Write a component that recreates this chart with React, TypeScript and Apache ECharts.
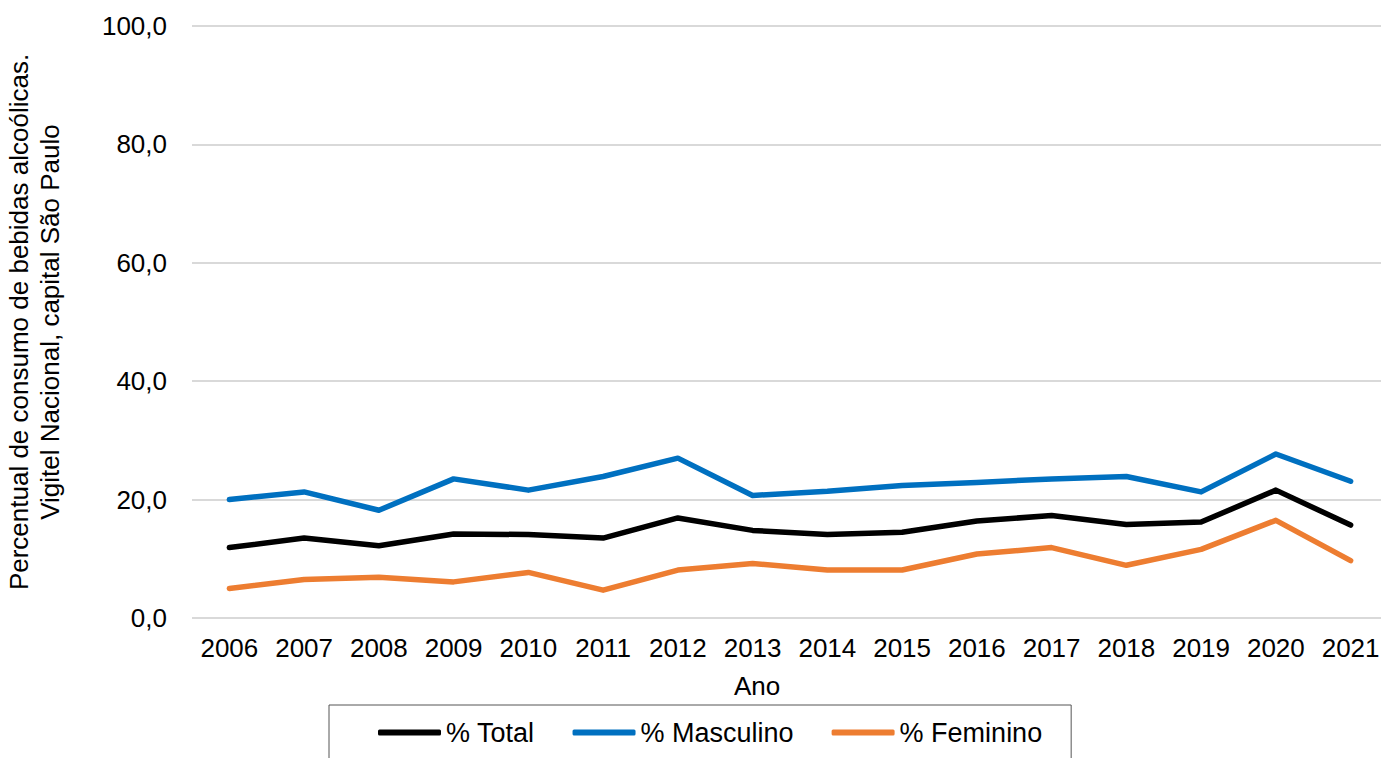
import React, { useEffect, useRef } from "react";
import * as echarts from "echarts";

const years = ["2006", "2007", "2008", "2009", "2010", "2011", "2012", "2013", "2014", "2015", "2016", "2017", "2018", "2019", "2020", "2021"];
const total = [11.9, 13.5, 12.2, 14.2, 14.1, 13.5, 16.9, 14.8, 14.1, 14.5, 16.4, 17.3, 15.8, 16.2, 21.6, 15.7];
const masculino = [20.0, 21.3, 18.2, 23.5, 21.6, 23.9, 27.0, 20.7, 21.4, 22.4, 22.9, 23.5, 23.9, 21.3, 27.7, 23.1];
const feminino = [5.0, 6.5, 6.9, 6.1, 7.7, 4.7, 8.1, 9.2, 8.1, 8.1, 10.8, 11.9, 8.9, 11.6, 16.5, 9.7];

const FONT = "'Liberation Sans', Arial, sans-serif";

export default function App() {
  const ref = useRef<HTMLDivElement>(null);
  useEffect(() => {
    document.body.style.margin = "0";
    const chart = echarts.init(ref.current!, null, { renderer: "svg" });
    const lineSeries = (name: string, data: number[], color: string) => ({
      name,
      type: "line",
      data,
      symbol: "none",
      smooth: false,
      color,
      lineStyle: { color, width: 5.5, cap: "round", join: "round" },
    });
    chart.setOption({
      animation: false,
      backgroundColor: "#ffffff",
      textStyle: { fontFamily: FONT, color: "#000" },
      grid: { left: 192, right: -7, top: 26, bottom: 140, outerBoundsMode: "none" },
      legend: {
        left: 329,
        top: 705,
        padding: [14, 29, 20, 49],
        borderColor: "#555555",
        borderWidth: 1,
        itemGap: 38,
        itemWidth: 63,
        itemHeight: 6,
        icon: "roundRect",
        textStyle: { fontFamily: FONT, fontSize: 27, color: "#000" },
        data: ["% Total", "% Masculino", "% Feminino"],
      },
      xAxis: {
        type: "category",
        data: years,
        boundaryGap: true,
        axisLine: { show: false },
        axisTick: { show: false },
        axisLabel: { fontFamily: FONT, fontSize: 26, color: "#000", margin: 17, interval: 0 },
        name: "Ano",
        nameLocation: "middle",
        nameGap: 55,
        nameTextStyle: { fontFamily: FONT, fontSize: 26, color: "#000", padding: [0, 66, 0, 0] },
      },
      yAxis: {
        type: "value",
        min: 0,
        max: 100,
        interval: 20,
        axisLine: { show: false },
        axisTick: { show: false },
        splitLine: { lineStyle: { color: "#d9d9d9", width: 2 } },
        axisLabel: {
          fontFamily: FONT,
          fontSize: 26,
          color: "#000",
          margin: 25,
          formatter: (v: number) => v.toFixed(1).replace(".", ","),
        },
        name: "Percentual de consumo de bebidas alcoólicas.\nVigitel Nacional, capital São Paulo",
        nameLocation: "middle",
        nameRotate: 90,
        nameGap: 127,
        nameTextStyle: { fontFamily: FONT, fontSize: 26, color: "#000", lineHeight: 31 },
      },
      series: [
        lineSeries("% Total", total, "#000000"),
        lineSeries("% Masculino", masculino, "#0070C0"),
        lineSeries("% Feminino", feminino, "#ED7D31"),
      ],
    });
    return () => chart.dispose();
  }, []);
  return <div ref={ref} style={{ position: "fixed", left: 0, top: 0, width: 1381, height: 758 }} />;
}
